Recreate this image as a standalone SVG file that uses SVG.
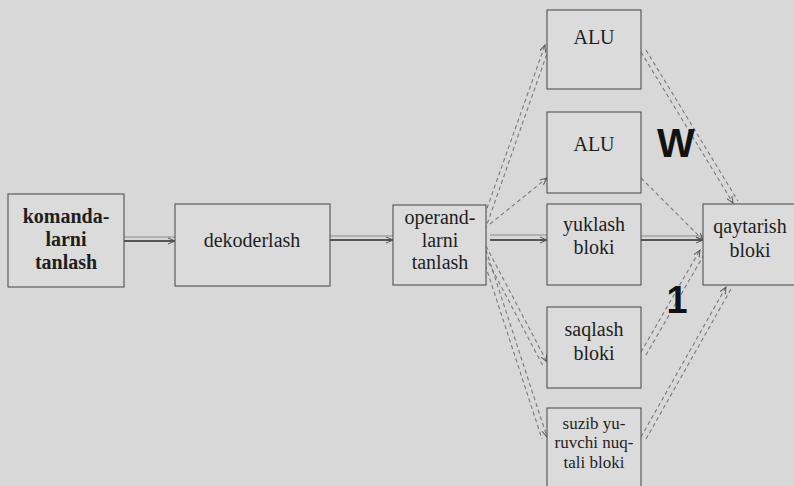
<svg xmlns="http://www.w3.org/2000/svg" width="794" height="486" viewBox="0 0 794 486">
<style>
.box{fill:#dbdbdb;stroke:#505050;stroke-width:1.1}
.t{font-family:"Liberation Serif","Times New Roman",serif;font-size:20px;fill:#1e1e1e;text-anchor:middle}
.ts{font-size:17px}
.h1{stroke:#2a2a2a;stroke-width:1.6;fill:none}
.h2{stroke:#8a8a8a;stroke-width:1;fill:none}
.d{stroke:#7a7a7a;stroke-width:1.1;stroke-dasharray:4 3;fill:none}
.big{font-family:"Liberation Sans",Arial,sans-serif;font-weight:bold;fill:#111}
</style>
<defs>
<marker id="a" markerWidth="8" markerHeight="8" refX="7" refY="4" orient="auto" markerUnits="userSpaceOnUse">
<path d="M0,1 L7,4 L0,7" fill="none" stroke="#555" stroke-width="1"/>
</marker>
</defs>
<rect width="794" height="486" fill="#d8d8d8"/>
<g id="connectors">
<line class="h2" x1="124" y1="237" x2="175" y2="237"/>
<line class="h1" x1="124" y1="241" x2="175" y2="241" marker-end="url(#a)"/>
<line class="h2" x1="330" y1="236" x2="393" y2="236"/>
<line class="h1" x1="330" y1="240" x2="393" y2="240" marker-end="url(#a)"/>
<line class="h2" x1="490" y1="235" x2="547" y2="235"/>
<line class="h1" x1="490" y1="240" x2="547" y2="240" marker-end="url(#a)"/>
<line class="h2" x1="641" y1="236" x2="703" y2="236"/>
<line class="h1" x1="641" y1="240" x2="703" y2="240" marker-end="url(#a)"/>
<line class="d" x1="480" y1="228" x2="545" y2="45" marker-end="url(#a)"/>
<line class="d" x1="485" y1="230" x2="549" y2="48"/>
<line class="d" x1="490" y1="224" x2="547" y2="178" marker-end="url(#a)"/>
<line class="d" x1="486" y1="246" x2="547" y2="362" marker-end="url(#a)"/>
<line class="d" x1="482" y1="250" x2="543" y2="366"/>
<line class="d" x1="486" y1="250" x2="547" y2="437" marker-end="url(#a)"/>
<line class="d" x1="481" y1="252" x2="542" y2="439"/>
<line class="d" x1="641" y1="52" x2="733" y2="203" marker-end="url(#a)"/>
<line class="d" x1="646" y1="50" x2="738" y2="201"/>
<line class="d" x1="641" y1="178" x2="703" y2="240" marker-end="url(#a)"/>
<line class="d" x1="641" y1="352" x2="700" y2="250" marker-end="url(#a)"/>
<line class="d" x1="646" y1="355" x2="705" y2="253"/>
<line class="d" x1="641" y1="437" x2="726" y2="287" marker-end="url(#a)"/>
<line class="d" x1="646" y1="439" x2="731" y2="289"/>
</g>
<g id="n1"><rect class="box" x="8" y="194" width="116" height="93"/>
<text class="t" font-weight="bold" x="66" y="223">komanda-</text>
<text class="t" font-weight="bold" x="66" y="246">larni</text>
<text class="t" font-weight="bold" x="66" y="269">tanlash</text></g>
<g id="n2"><rect class="box" x="175" y="204" width="155" height="82"/>
<text class="t" x="252" y="247">dekoderlash</text></g>
<g id="n3"><rect class="box" x="393" y="205" width="93" height="80"/>
<text class="t" x="440" y="224">operand-</text>
<text class="t" x="440" y="247">larni</text>
<text class="t" x="440" y="269">tanlash</text></g>
<g id="n4"><rect class="box" x="547" y="10" width="94" height="79"/>
<text class="t" x="594" y="44">ALU</text></g>
<g id="n5"><rect class="box" x="547" y="112" width="94" height="81"/>
<text class="t" x="594" y="151">ALU</text></g>
<g id="n6"><rect class="box" x="547" y="204" width="94" height="81"/>
<text class="t" x="594" y="231">yuklash</text>
<text class="t" x="594" y="254">bloki</text></g>
<g id="n7"><rect class="box" x="547" y="307" width="94" height="81"/>
<text class="t" x="594" y="336">saqlash</text>
<text class="t" x="594" y="360">bloki</text></g>
<g id="n8"><rect class="box" x="547" y="408" width="94" height="90"/>
<text class="t ts" x="594" y="429">suzib yu-</text>
<text class="t ts" x="594" y="448">ruvchi nuq-</text>
<text class="t ts" x="594" y="468">tali bloki</text></g>
<g id="n9"><rect class="box" x="703" y="204" width="100" height="81"/>
<text class="t" x="750" y="233">qaytarish</text>
<text class="t" x="750" y="257">bloki</text></g>
<text class="big" x="676" y="157" font-size="40" text-anchor="middle">W</text>
<text class="big" x="677" y="313" font-size="38" text-anchor="middle">1</text>
</svg>
